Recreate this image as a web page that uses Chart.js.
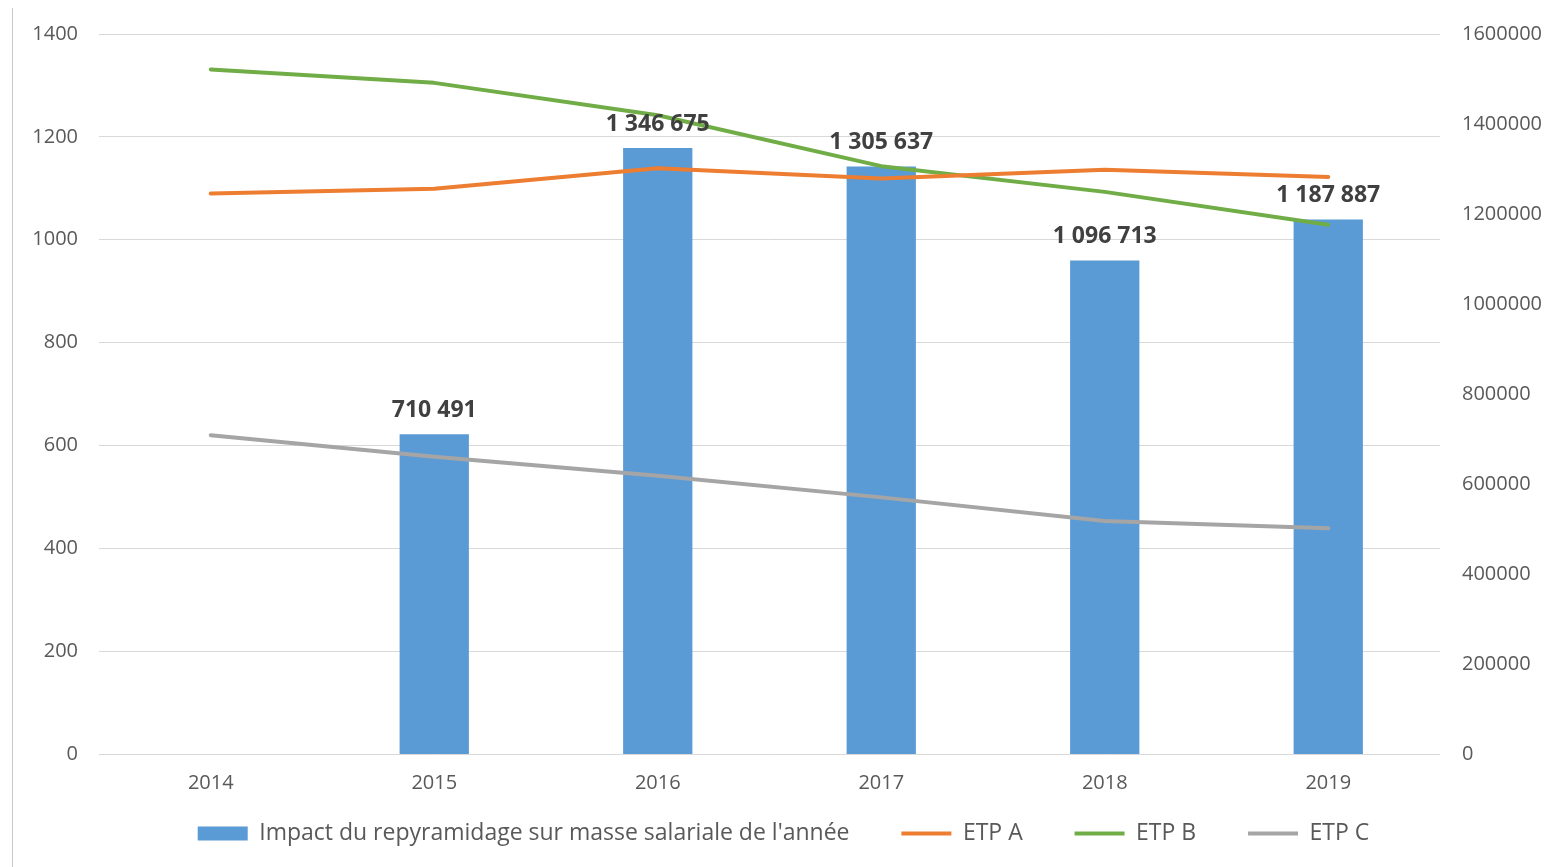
<!DOCTYPE html>
<html>
<head>
<meta charset="utf-8">
<script src="https://cdn.jsdelivr.net/npm/chart.js@4.4.1/dist/chart.umd.min.js"></script>
<style>
  html, body { margin: 0; padding: 0; background: #fff; }
  #wrap { position: relative; width: 1547px; height: 867px; }
  #wrap::before { content: ''; position: absolute; left: 12px; top: 8px; bottom: 0; width: 1px; background: #c8c8c8; }
</style>
</head>
<body>
<div id="wrap"><canvas id="chart" width="1547" height="867"></canvas></div>
<script>
// données
const annees = ['2014', '2015', '2016', '2017', '2018', '2019'];
const impactMasse = [null, 710491, 1346675, 1305637, 1096713, 1187887];
const etpA = [1090, 1099, 1139, 1119, 1136, 1122];
const etpB = [1331, 1305, 1242, 1143, 1093, 1029];
const etpC = [620, 578, 541, 499, 453, 439];

const policeAxe = { family: "'Open Sans', sans-serif", size: 20 };
const grisTexte = '#595959';

function formatMilliers(v) {
  return String(v).replace(/\B(?=(\d{3})+(?!\d))/g, ' ');
}

// étiquettes au-dessus des barres
const etiquettesBarres = {
  id: 'etiquettesBarres',
  afterDatasetsDraw(chart) {
    const ctx = chart.ctx;
    const meta = chart.getDatasetMeta(0);
    ctx.save();
    ctx.font = "bold 23px 'Open Sans', sans-serif";
    ctx.fillStyle = '#404040';
    ctx.textAlign = 'center';
    ctx.textBaseline = 'alphabetic';
    meta.data.forEach((bar, i) => {
      const v = chart.data.datasets[0].data[i];
      if (v == null) return;
      ctx.fillText(formatMilliers(v), bar.x, bar.y - 17);
    });
    ctx.restore();
  }
};

const ctx = document.getElementById('chart').getContext('2d');
const chart = new Chart(ctx, {
  type: 'bar',
  data: {
    labels: annees,
    datasets: [
      {
        type: 'bar',
        label: "Impact du repyramidage sur masse salariale de l'année",
        data: impactMasse,
        backgroundColor: '#5b9bd5',
        yAxisID: 'y1',
        barPercentage: 0.31,
        categoryPercentage: 1,
        order: 2
      },
      {
        type: 'line', label: 'ETP A', data: etpA, borderColor: '#ed7d31', backgroundColor: '#ed7d31',
        borderWidth: 4, pointRadius: 0, tension: 0, borderCapStyle: 'round', borderJoinStyle: 'round', yAxisID: 'y', order: 1
      },
      {
        type: 'line', label: 'ETP B', data: etpB, borderColor: '#70ad47', backgroundColor: '#70ad47',
        borderWidth: 4, pointRadius: 0, tension: 0, borderCapStyle: 'round', borderJoinStyle: 'round', yAxisID: 'y', order: 1
      },
      {
        type: 'line', label: 'ETP C', data: etpC, borderColor: '#a5a5a5', backgroundColor: '#a5a5a5',
        borderWidth: 4, pointRadius: 0, tension: 0, borderCapStyle: 'round', borderJoinStyle: 'round', yAxisID: 'y', order: 1
      }
    ]
  },
  options: {
    responsive: false,
    animation: false,
    devicePixelRatio: 1,
    layout: { padding: { top: 34, left: 20, right: 0, bottom: 12 } },
    scales: {
      x: {
        grid: { display: false, drawTicks: false },
        border: { display: false },
        ticks: { font: policeAxe, color: grisTexte, padding: 17 },
        afterFit: s => { s.height = 46; }
      },
      y: {
        position: 'left',
        min: 0, max: 1400,
        ticks: { stepSize: 200, font: policeAxe, color: grisTexte, padding: 21, callback: v => v },
        grid: { color: '#d9d9d9', lineWidth: 1, drawTicks: false },
        border: { display: false },
        afterFit: s => { s.width = 79; }
      },
      y1: {
        position: 'right',
        min: 0, max: 1600000,
        ticks: { stepSize: 200000, font: policeAxe, color: grisTexte, padding: 22, callback: v => v },
        grid: { display: false, drawTicks: false },
        border: { display: false },
        afterFit: s => { s.width = 107; }
      }
    },
    plugins: {
      tooltip: { enabled: false },
      legend: {
        position: 'bottom',
        labels: {
          usePointStyle: true,
          pointStyleWidth: 50,
          boxHeight: 14,
          padding: 22,
          color: grisTexte,
          font: { family: "'Open Sans', sans-serif", size: 23 },
          sort: (a, b) => a.datasetIndex - b.datasetIndex,
          generateLabels: c => Chart.defaults.plugins.legend.labels.generateLabels(c).map(item => {
            const ds = c.data.datasets[item.datasetIndex];
            if (item.datasetIndex < c.data.datasets.length - 1) item.text += '     ';
            if (ds.type === 'line') {
              item.pointStyle = 'line';
              item.strokeStyle = ds.borderColor;
              item.lineWidth = 4;
            } else {
              item.pointStyle = 'rect';
              item.fillStyle = ds.backgroundColor;
              item.lineWidth = 0;
            }
            return item;
          })
        }
      }
    }
  },
  plugins: [etiquettesBarres]
});
</script>
</body>
</html>
